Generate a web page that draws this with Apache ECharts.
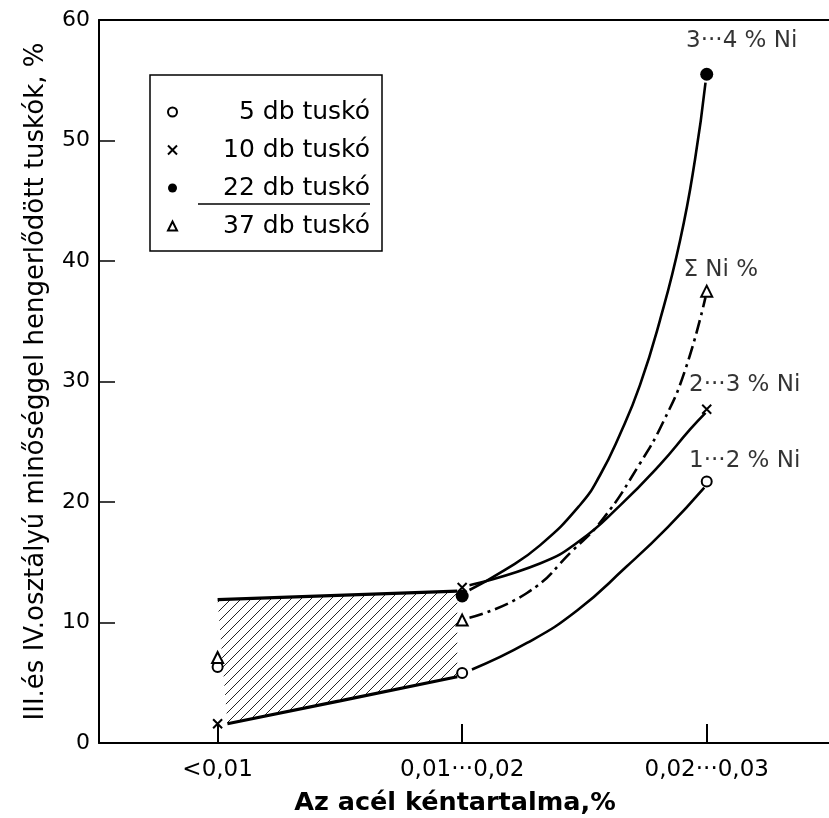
<!DOCTYPE html>
<html><head><meta charset="utf-8">
<script src="https://cdn.jsdelivr.net/npm/echarts@6/dist/echarts.min.js"></script>
<style>html,body{margin:0;padding:0;background:#fff}#c{width:829px;height:818px}</style>
</head><body><div id="c"></div>
<script>
// ---- data ----
const xTickValues = [0, 1, 2];
const xTickLabels = ['<0,01', '0,01\u00b7\u00b7\u00b70,02', '0,02\u00b7\u00b7\u00b70,03'];
const legendNames = ['5 db tuskó', '10 db tuskó', '22 db tuskó', '37 db tuskó'];
const pts5  = [[0, 6.3], [1, 5.8], [2, 21.7]];
const pts10 = [[0, 1.6], [1, 12.9], [2, 27.7]];
const pts22 = [[1, 12.2], [2, 55.5]];
const pts37 = [[0, 7.1], [1, 10.2], [2, 37.5]];
const curve12 = [[1.04, 6.1], [1.265, 8.3], [1.47, 11.0], [1.67, 14.6], [1.84, 17.9], [1.99, 21.2]];
const curve23 = [[1.03, 13.1], [1.318, 14.9], [1.482, 16.8], [1.645, 19.7], [1.809, 23.1], [1.931, 26.0], [1.995, 27.4]];
const curve34 = [[1.03, 12.7], [1.17, 14.3], [1.318, 16.4], [1.482, 19.75], [1.563, 22.2], [1.645, 25.6], [1.727, 29.7], [1.809, 35.1], [1.891, 41.7], [1.952, 48.4], [1.995, 54.8]];
const curveSum = [[1.03, 10.4], [1.265, 12.45], [1.453, 16.0], [1.576, 18.6], [1.727, 23.2], [1.821, 26.6], [1.911, 30.9], [1.995, 37.0]];
const hatchUpper = [[0, 11.9], [0.98, 12.6]];
const hatchLower = [[0.04, 1.6], [0.5, 3.5], [0.98, 5.5]];
const curveLabels = ['3\u00b7\u00b7\u00b74 % Ni', '\u03a3 Ni %', '2\u00b7\u00b7\u00b73 % Ni', '1\u00b7\u00b7\u00b72 % Ni'];
const curveLabelPts = [[2, 55.5], [2, 37.5], [2, 27.7], [2, 21.7]];

// ---- styling ----
const FONT = 'DejaVu Sans';
const labelOffsets = [[35, -17], [14, -5], [38, -8], [38, -4]];

const T = 10;
const pc = document.createElement('canvas');
pc.width = T; pc.height = T;
const g = pc.getContext('2d');
g.strokeStyle = '#222'; g.lineWidth = 1;
g.beginPath(); g.moveTo(-1, T + 1); g.lineTo(T + 1, -1); g.stroke();
g.beginPath(); g.moveTo(-1, 1); g.lineTo(1, -1); g.stroke();
g.beginPath(); g.moveTo(T - 1, T + 1); g.lineTo(T + 1, T - 1); g.stroke();

const crossPath = 'path://M0,0L10,10M10,0L0,10';

const chart = echarts.init(document.getElementById('c'), null, {renderer: 'canvas'});
const lineCurve = (data, dashed) => ({
  type: 'line', data, smooth: 0.5, showSymbol: false, symbol: 'none', silent: true,
  lineStyle: {color: '#000', width: 2.6, type: dashed ? [14, 5, 3, 5] : 'solid'},
  z: 3
});

chart.setOption({
  animation: false,
  backgroundColor: '#fff',
  grid: {left: 99, right: 0, top: 20, bottom: 75, containLabel: false, outerBoundsMode: 'none'},
  xAxis: [{
    type: 'value', min: -0.485, max: 2.5,
    axisLine: {show: true, onZero: false, lineStyle: {color: '#000', width: 2}},
    axisTick: {show: true, inside: true, length: 19, customValues: xTickValues, lineStyle: {color: '#000', width: 2}},
    axisLabel: {customValues: xTickValues, formatter: v => xTickLabels[xTickValues.indexOf(v)], color: '#000', fontSize: 23, fontFamily: FONT, margin: 16},
    splitLine: {show: false},
    name: 'Az acél kéntartalma,%', nameLocation: 'middle', nameGap: 47,
    nameTextStyle: {color: '#000', fontSize: 25.5, fontWeight: 'bold', fontFamily: FONT, padding: [0, 18, 0, 0]}
  }, {
    type: 'value', position: 'top', min: -0.485, max: 2.5,
    axisLine: {show: true, onZero: false, lineStyle: {color: '#000', width: 2}},
    axisTick: {show: false}, axisLabel: {show: false}, splitLine: {show: false}
  }],
  yAxis: {
    type: 'value', min: 0, max: 60, interval: 10,
    axisLine: {show: true, onZero: false, lineStyle: {color: '#000', width: 2}},
    axisTick: {show: true, inside: true, length: 16, lineStyle: {color: '#000', width: 1.5}},
    axisLabel: {color: '#000', fontSize: 22, fontFamily: FONT, margin: 9},
    splitLine: {show: false},
    name: 'III.és IV.osztályú minőséggel hengerlődött tuskók, %', nameLocation: 'middle', nameGap: 50,
    nameTextStyle: {color: '#000', fontSize: 26, fontFamily: FONT}
  },
  legend: {
    orient: 'vertical', left: 150, top: 75,
    padding: [22, 12, 10, 17],
    itemWidth: 9, itemHeight: 9, itemGap: 8,
    borderColor: '#000', borderWidth: 1.5,
    data: legendNames,
    formatter: n => '{t|' + n + '}',
    textStyle: {color: '#000', fontSize: 25, fontFamily: FONT, lineHeight: 30,
      rich: {t: {width: 188, align: 'right', fontSize: 25, lineHeight: 30, fontFamily: FONT, color: '#000'}}}
  },
  graphic: [{type: 'line', shape: {x1: 198, y1: 204, x2: 370, y2: 204}, style: {stroke: '#000', lineWidth: 1.5}}],
  series: [
    {
      type: 'custom', silent: true, z: 1,
      data: [0],
      renderItem: (params, api) => {
        const poly = hatchUpper.concat(hatchLower.slice().reverse()).map(p => api.coord(p));
        return {type: 'polygon', shape: {points: poly}, style: {fill: {image: pc, repeat: 'repeat'}, stroke: null}};
      }
    },
    Object.assign(lineCurve(hatchUpper), {lineStyle: {color: '#000', width: 3.2}, smooth: false}),
    Object.assign(lineCurve(hatchLower), {lineStyle: {color: '#000', width: 3.2}}),
    lineCurve(curve12),
    lineCurve(curve23),
    lineCurve(curve34),
    lineCurve(curveSum, true),
    {name: legendNames[0], type: 'scatter', data: pts5, symbol: 'emptyCircle', symbolSize: 10,
      itemStyle: {color: '#000', borderColor: '#000', borderWidth: 2, opacity: 1}, z: 5},
    {name: legendNames[1], type: 'scatter', data: pts10, symbol: crossPath, symbolSize: 9,
      itemStyle: {color: 'rgba(0,0,0,0)', borderColor: '#000', borderWidth: 2, opacity: 1}, z: 5},
    {name: legendNames[2], type: 'scatter', data: pts22, symbol: 'circle', symbolSize: 13,
      itemStyle: {color: '#000', opacity: 1}, z: 5},
    {name: legendNames[3], type: 'scatter', data: pts37, symbol: 'emptyTriangle', symbolSize: 11,
      itemStyle: {color: '#000', borderColor: '#000', borderWidth: 2, opacity: 1}, z: 5},
    {
      type: 'scatter', silent: true, symbolSize: 0, z: 6,
      data: curveLabelPts.map((p, i) => ({
        value: p,
        label: {show: true, position: 'top', formatter: curveLabels[i], offset: labelOffsets[i],
          color: '#000', fontSize: 23, fontFamily: FONT}
      }))
    }
  ]
});
</script></body></html>
